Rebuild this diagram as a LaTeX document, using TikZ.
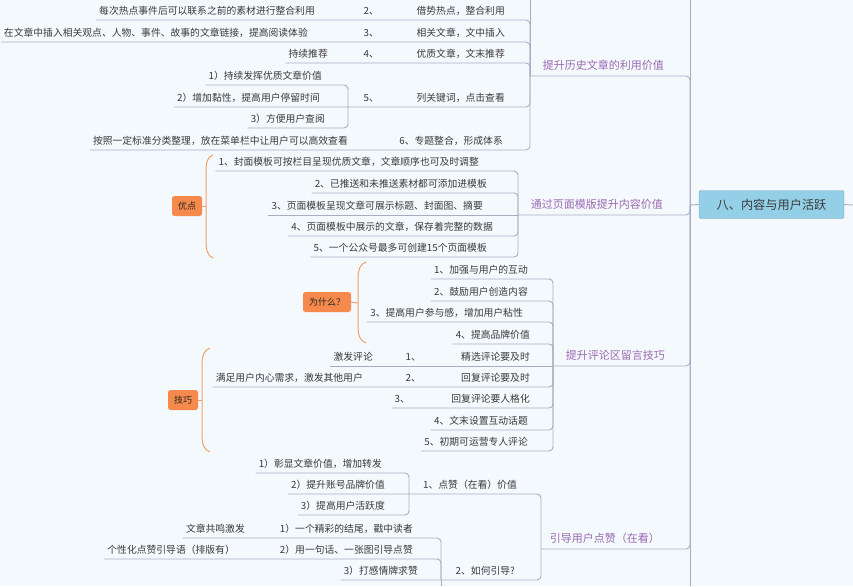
\documentclass[tikz,border=0pt]{standalone}
\usepackage{fontspec}
\setmainfont{Noto Sans CJK SC}
\usetikzlibrary{positioning}
\definecolor{bgblue}{HTML}{F4F9FD}
\definecolor{linegray}{HTML}{A9ADC2}
\definecolor{textgray}{HTML}{3A3A3A}
\definecolor{branchpurple}{HTML}{9A6AB2}
\definecolor{rootblue}{HTML}{93CFE6}
\definecolor{rootedge}{HTML}{8E9FB2}
\definecolor{tagorange}{HTML}{F6894C}
\definecolor{braceorange}{HTML}{F5A06B}
\tikzset{
  link/.style={draw=linegray, line width=0.9pt, rounded corners=4pt},
  item/.style={anchor=south east, inner xsep=3pt, inner ysep=3pt, text height=8.5pt, text depth=2pt, text=textgray, font=\fontsize{9.8}{11}\selectfont},
  branch/.style={item, inner ysep=4pt, text=branchpurple, font=\fontsize{11}{13}\selectfont},
  root/.style={draw=rootedge, fill=rootblue, rounded corners=2pt, minimum width=145pt, minimum height=28pt, text=textgray, font=\fontsize{12.2}{14}\selectfont},
  tag/.style={fill=tagorange, rounded corners=2.5pt, minimum height=20pt, inner xsep=6pt, text=black!85, font=\fontsize{9}{10}\selectfont},
  brace/.style={draw=braceorange, line width=1pt}
}

\begin{document}
\begin{tikzpicture}[x=1pt,y=-1pt]
  \useasboundingbox (0,0) rectangle (853,586);
  \fill[bgblue] (0,0) rectangle (853,586);

  \node[root] (root) at (771.5,204.5) {八、内容与用户活跃};
  \coordinate (trk) at (690,205);
  \coordinate (trktop) at (690,0);
  \coordinate (trkbot) at (690,586);
  \coordinate (rootout) at (853,205);
  \draw[link] (trktop) -- (trkbot);
  \draw[link] (root.west) -- (trk);
  \draw[link] (root.east) -- (rootout);

  \node[branch] (hist) at (667,76) {提升历史文章的利用价值};
  \coordinate (histj) at (530,76);
  \coordinate (histtop) at (530,0);
  \draw[link] (trk) |- (histj);
  \draw[link] (histj) -- (histtop);

  \node[item] (h2a) at (508,20) {借势热点，整合利用};
  \node[item] (h2b) at (382,20) {2、};
  \node[item] (h2c) at (318,20) {每次热点事件后可以联系之前的素材进行整合利用};
  \node[item] (h3a) at (508,42) {相关文章，文中插入};
  \node[item] (h3b) at (382,42) {3、};
  \node[item] (h3c) at (311,42) {在文章中插入相关观点、人物、事件、故事的文章链接，提高阅读体验};
  \node[item] (h4a) at (508,63) {优质文章，文末推荐};
  \node[item] (h4b) at (382,63) {4、};
  \node[item] (h4c) at (331,63) {持续推荐};
  \node[item] (h5a) at (508,107) {列关键词，点击查看};
  \node[item] (h5b) at (382,107) {5、};
  \coordinate (h5j) at (348,107);
  \node[item] (h5s1) at (325,85) {1）持续发挥优质文章价值};
  \node[item] (h5s2) at (323,107) {2）增加黏性，提高用户停留时间};
  \node[item] (h5s3) at (328,128) {3）方便用户查阅};
  \node[item] (h6a) at (506,150) {6、专题整合，形成体系};
  \node[item] (h6b) at (351,150) {按照一定标准分类整理，放在菜单栏中让用户可以高效查看};

  \draw[link] (histj) |- (h2c.south west);
  \draw[link] (histj) |- (h3c.south west);
  \draw[link] (histj) |- (h4c.south west);
  \draw[link] (histj) |- (h5s2.south west);
  \draw[link] (h5j) |- (h5s1.south west);
  \draw[link] (h5j) |- (h5s3.south west);
  \draw[link] (histj) |- (h6b.south west);

  \node[branch] (tmpl) at (666,215) {通过页面模版提升内容价值};
  \coordinate (tmplj) at (518,215);
  \draw[link] (trk) |- (tmplj);

  \node[item] (t1) at (482,171) {1、封面模板可按栏目呈现优质文章，文章顺序也可及时调整};
  \node[item] (t2) at (490,193) {2、已推送和未推送素材都可添加进模板};
  \node[item] (t3) at (486,215) {3、页面模板呈现文章可展示标题、封面图、摘要};
  \node[item] (t4) at (496,236) {4、页面模板中展示的文章，保存着完整的数据};
  \node[item] (t5) at (490,257) {5、一个公众号最多可创建15个页面模板};
  \draw[link] (tmplj) |- (t1.south west);
  \draw[link] (tmplj) |- (t2.south west);
  \draw[link] (tmplj) -- (t3.south west);
  \draw[link] (tmplj) |- (t4.south west);
  \draw[link] (tmplj) |- (t5.south west);

  \node[tag] (good) at (187,206) {优点};
  \coordinate (goodb) at (206,206);
  \draw[brace] (213,155) .. controls (207,157) and (206,163) .. (206,172) -- (206,240) .. controls (206,249) and (207,256) .. (213,258);
  \draw[brace] (good.east) -- (goodb);

  \node[branch] (cmt) at (668,366) {提升评论区留言技巧};
  \coordinate (cmtj) at (553,366);
  \draw[link] (trk) |- (cmtj);

  \node[item] (c1) at (531,279) {1、加强与用户的互动};
  \node[item] (c2) at (531,301) {2、鼓励用户创造内容};
  \node[item] (c3) at (526,322) {3、提高用户参与感，增加用户粘性};
  \node[item] (c4) at (533,344) {4、提高品牌价值};
  \node[item] (c5a) at (533,366) {精选评论要及时};
  \node[item] (c5b) at (424,366) {1、};
  \node[item] (c5c) at (376,366) {激发评论};
  \node[item] (c6a) at (533,387) {回复评论要及时};
  \node[item] (c6b) at (424,387) {2、};
  \node[item] (c6c) at (366,387) {满足用户内心需求，激发其他用户};
  \node[item] (c7a) at (533,408) {回复评论要人格化};
  \node[item] (c7b) at (413,408) {3、};
  \node[item] (c8) at (531,430) {4、文末设置互动话题};
  \node[item] (c9) at (531,451) {5、初期可运营专人评论};
  \draw[link] (cmtj) |- (c1.south west);
  \draw[link] (cmtj) |- (c2.south west);
  \draw[link] (cmtj) |- (c3.south west);
  \draw[link] (cmtj) |- (c4.south west);
  \draw[link] (cmtj) -- (c5c.south west);
  \draw[link] (cmtj) |- (c6c.south west);
  \draw[link] (cmtj) |- (c7b.south west);
  \draw[link] (cmtj) |- (c8.south west);
  \draw[link] (cmtj) |- (c9.south west);

  \node[tag] (why) at (327,302) {为什么？};
  \coordinate (whyb) at (358,303);
  \draw[brace] (366,262) .. controls (360,264) and (358,270) .. (358,278) -- (358,327) .. controls (358,335) and (360,341) .. (366,343);
  \draw[brace] (why.east) -- (whyb);

  \node[tag] (tips) at (183,400) {技巧};
  \coordinate (tipsb) at (202,400);
  \draw[brace] (210,348) .. controls (204,350) and (202,356) .. (202,365) -- (202,435) .. controls (202,444) and (204,450) .. (210,452);
  \draw[brace] (tips.east) -- (tipsb);

  \node[branch] (like) at (663,549) {引导用户点赞（在看）};
  \coordinate (likej) at (541,549);
  \draw[link] (trk) |- (likej);

  \node[item] (d1) at (520,494) {1、点赞（在看）价值};
  \coordinate (d1j) at (409,494);
  \node[item] (d1s1) at (385,473) {1）彰显文章价值，增加转发};
  \node[item] (d1s2) at (388,494) {2）提升账号品牌价值};
  \node[item] (d1s3) at (388,515) {3）提高用户活跃度};
  \draw[link] (likej) |- (d1s2.south west);
  \draw[link] (d1j) |- (d1s1.south west);
  \draw[link] (d1j) |- (d1s3.south west);

  \node[item] (d2) at (518,580) {2、如何引导?};
  \coordinate (d2j) at (441,580);
  \coordinate (d2bot) at (441,586);
  \node[item] (d2s1a) at (416,538) {1）一个精彩的结尾，戳中读者};
  \node[item] (d2s1b) at (248,538) {文章共鸣激发};
  \node[item] (d2s2a) at (416,559) {2）用一句话、一张图引导点赞};
  \node[item] (d2s2b) at (238,559) {个性化点赞引导语（排版有）};
  \node[item] (d2s3) at (421,580) {3）打感情牌求赞};
  \draw[link] (likej) |- (d2s3.south west);
  \draw[link] (d2j) |- (d2s1b.south west);
  \draw[link] (d2j) |- (d2s2b.south west);
  \draw[link] (d2j) -- (d2bot);
\end{tikzpicture}
\end{document}
